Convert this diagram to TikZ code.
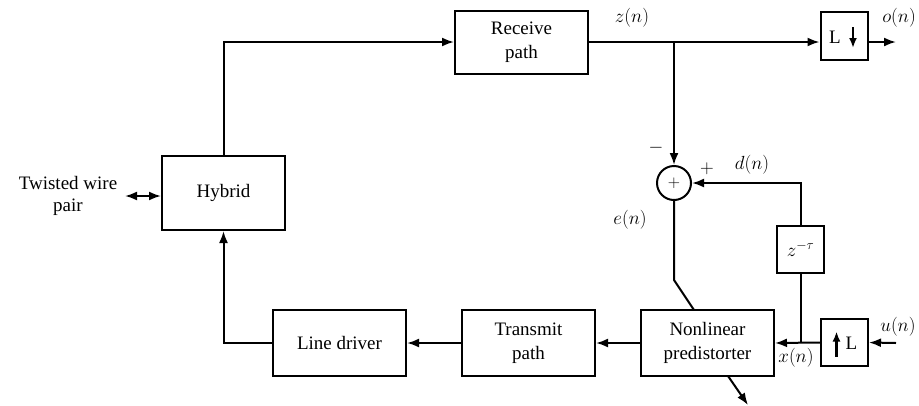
\RequirePackage{fix-cm}
\documentclass[tikz,border=0pt]{standalone}
\usepackage[no-math]{fontspec}
\setmainfont{Liberation Serif}
\usetikzlibrary{arrows.meta,calc}

\begin{document}
\begin{tikzpicture}[x=1pt,y=-1pt,line width=2pt,
  >={Latex[length=12pt,width=9pt]},
  blk/.style={draw,minimum width=133pt,minimum height=66pt,align=center,inner sep=0pt,
    font=\fontsize{19}{24}\selectfont},
  smallbox/.style={draw,minimum width=47pt,minimum height=47pt,inner sep=0pt,
    font=\fontsize{19}{22}\selectfont},
  lbl/.style={inner sep=0pt,font=\fontsize{19}{22}\selectfont},
  glyph/.style={line width=2.2pt,-{Latex[length=10pt,width=8pt]}}]

\useasboundingbox (0,0) rectangle (919,405);

% main blocks
\node[blk,minimum height=63pt] (rx) at (521.5,42) {Receive\\path};
\node[blk,minimum width=123pt,minimum height=74pt] (hyb) at (223.5,193) {Hybrid};
\node[blk] (ld) at (339.5,343) {Line driver};
\node[blk] (tp) at (528.5,343) {Transmit\\path};
\node[blk] (np) at (707.5,343) {Nonlinear\\predistorter};

% rate changers and delay
\node[smallbox,minimum height=48pt] (dn) at (844,36) {};
\node[lbl] (dnL) at ($(dn.center)+(-9,1)$) {L};
\draw[glyph] ($(dn.center)+(9,-9)$) -- ($(dn.center)+(9,12)$);

\node[smallbox] (up) at (844.5,342.5) {};
\node[lbl] (upL) at ($(up.center)+(7,1)$) {L};
\draw[glyph] ($(up.center)+(-8,14)$) -- ($(up.center)+(-8,-11)$);

\node[smallbox] (dl) at (800.5,249.5) {$z^{-\tau}$};

% summing junction
\node[draw,circle,minimum size=34pt,inner sep=0pt,font=\fontsize{17}{19}\selectfont] (sum) at (674,183) {$+$};

% twisted wire pair
\node[lbl,align=center] (twp) at (68,196) {Twisted wire\\pair};
\coordinate (twpR) at (125,196);

% helper points
\coordinate (j1) at (674,42);
\coordinate (oout) at (896,42);
\coordinate (uin) at (896,343);
\coordinate (ebend) at (674,280);
\coordinate (etop) at (694,310);
\coordinate (pdA) at (728,376);
\coordinate (pdB) at (748,405);

% connectors
\draw[->] (hyb.north) |- (rx.west);
\draw[->] (rx.east) -- (rx.east -| dn.west);
\draw[->] (oout -| dn.east) -- (oout);
\draw[->] (j1) -- (sum.north);
\draw[<-] (sum.east) -| (dl.north);
\draw (dl.south) -- (dl.south |- np.east);
\draw[->] (uin) -- (up.east);
\draw[->] (up.west) -- (np.east);
\draw (sum.south) -- (ebend) -- (etop);
\draw[->] (pdA) -- (pdB);
\draw[->] (np.west) -- (tp.east);
\draw[->] (tp.west) -- (ld.east);
\draw[->] (ld.west) -| (hyb.south);
\draw[<->] (twpR) -- (twpR -| hyb.west);

% signal labels
\node[lbl] (lz) at (632,18) {$z(n)$};
\node[lbl] (lo) at (899,18) {$o(n)$};
\node[lbl] (lminus) at (656,148) {$-$};
\node[lbl] (lplus) at (707,169) {$+$};
\node[lbl] (ld2) at (752,165) {$d(n)$};
\node[lbl] (le) at (630,220) {$e(n)$};
\node[lbl] (lx) at (796,358) {$x(n)$};
\node[lbl] (lu) at (898,327) {$u(n)$};
\end{tikzpicture}
\end{document}
